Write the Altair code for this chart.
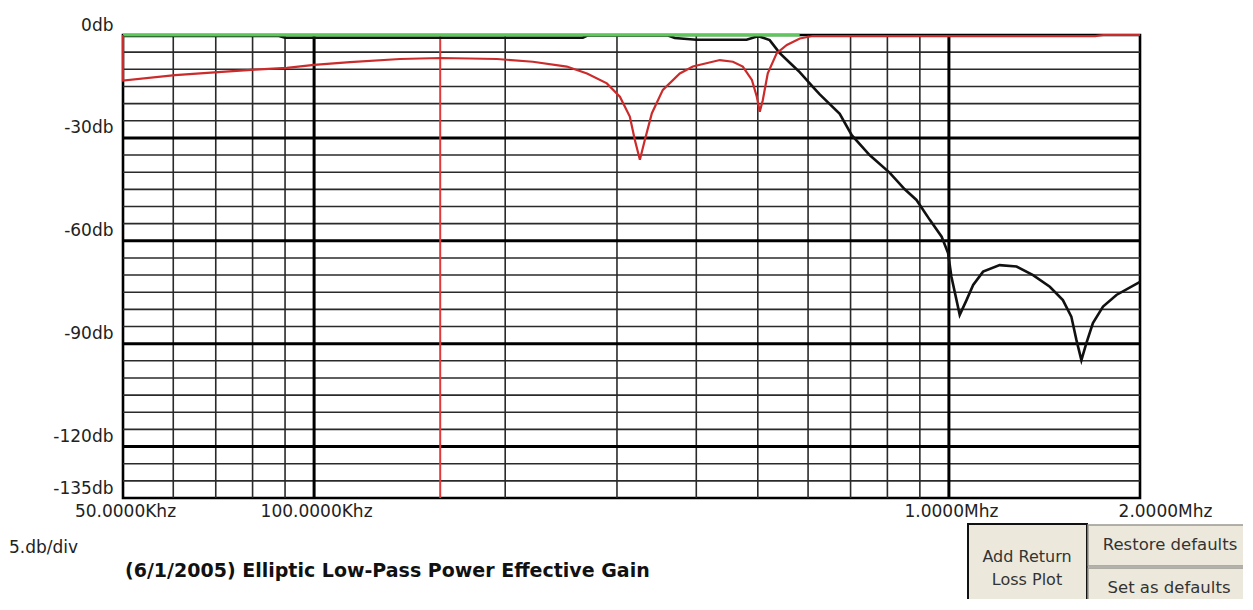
import altair as alt
import pandas as pd

# ---------------- data ----------------
# transmission (power gain) curve, black
black_freq_khz = [50, 88, 90, 265, 270, 360, 370, 400, 480, 500, 504, 522, 541, 561, 582,
                  611, 626, 673, 703, 750, 807, 852, 889, 933, 974, 997, 1009, 1028, 1040,
                  1066, 1092, 1132, 1202, 1278, 1357, 1442, 1512, 1559, 1588, 1617, 1646,
                  1686, 1749, 1836, 2000]
black_db = [-0.3, -0.3, -0.8, -0.8, -0.1, -0.1, -0.9, -1.4, -1.4, -0.4, -0.5, -1.5, -5.2, -8.0, -10.8,
            -15.2, -17.3, -23.0, -29.2, -35.0, -40.2, -45.0, -48.1, -53.9, -58.8, -63.6, -70.4, -77.3, -81.6,
            -77.3, -72.9, -69.0, -67.1, -67.5, -70.0, -73.4, -77.3, -82.1, -88.9, -94.8, -89.9,
            -84.0, -79.2, -75.8, -72.0]

# return loss curve, red
red_freq_khz = [50, 50, 60.4, 70.6, 80.7, 90.6, 100, 113.9, 136.6, 158.4, 194.1, 221.1, 250.1,
                269.1, 289.2, 303.2, 314.3, 320.1, 326.0, 331.9, 340.5, 354.3, 376.8, 395.0,
                435.7, 456.8, 473.5, 489.4, 498.2, 503.6, 509.1, 518.4, 535.6, 555.5, 582.4,
                610.3, 1700, 1750, 2000]
red_db = [0, -13.3, -11.7, -10.8, -10.1, -9.6, -8.7, -7.9, -7.0, -6.7, -7.0, -7.8, -9.2,
          -11.2, -14.1, -18.0, -23.8, -30.6, -36.4, -30.6, -22.8, -16.0, -11.2, -9.2,
          -7.3, -7.8, -9.2, -13.1, -18.0, -22.4, -19.0, -11.2, -5.3, -2.9, -1.0,
          -0.3, -0.3, 0, 0]

# green reference line at 0 dB
green_freq_khz = [50, 582]
green_db = [0, 0]

# cursor marker
marker_freq_khz = [158]

# grid
vgrid_minor = [60, 70, 80, 90, 200, 300, 400, 500, 600, 700, 800, 900]
vgrid_major = [100, 1000]
hgrid_minor = [-5, -10, -15, -20, -25, -35, -40, -45, -50, -55, -65, -70, -75, -80, -85,
               -95, -100, -105, -110, -115, -125, -130]
hgrid_major = [-30, -60, -90, -120]

# axis labels
x_tick_values = [50, 100, 1000, 2000]
x_tick_labels = ["50.0000Khz", "100.0000Khz", "1.0000Mhz", "2.0000Mhz"]
y_tick_values = [0, -30, -60, -90, -120, -135]
y_tick_labels = ["0db", "-30db", "-60db", "-90db", "-120db", "-135db"]

# texts
scale_text = ["5.db/div"]
title_text = ["(6/1/2005) Elliptic Low-Pass Power Effective Gain"]
button1_text = ["Add Return", "Loss Plot"]
button2_text = ["Restore defaults"]
button3_text = ["Set as defaults"]

FONT = "DejaVu Sans"


def label_expr(vals, labels):
    expr = "''"
    for v, l in zip(reversed(vals), reversed(labels)):
        expr = f"(abs(datum.value - ({v})) < 0.001 ? '{l}' : {expr})"
    return expr


x_scale = alt.Scale(type="log", domain=[50, 2000], nice=False, zero=False)
y_scale = alt.Scale(domain=[-135, 0], nice=False, zero=False)

x_axis = alt.Axis(values=x_tick_values, labelExpr=label_expr(x_tick_values, x_tick_labels),
                  title=None, ticks=False, domain=False, grid=False,
                  labelFont=FONT, labelFontSize=17, labelColor="#222222", labelPadding=5,
                  labelFlush=False, labelOverlap=False, labelBound=False,
                  labelOffset={"condition": {"test": "datum.value > 1500", "value": 25}, "value": 2})
y_axis = alt.Axis(values=y_tick_values, labelExpr=label_expr(y_tick_values, y_tick_labels),
                  title=None, ticks=False, tickSize=0, domain=False, grid=False,
                  labelFont=FONT, labelFontSize=17, labelColor="#222222", labelPadding=10,
                  labelOffset=-10, labelBaseline="middle", labelFlush=False, labelOverlap=False)

X = alt.X("f:Q", scale=x_scale, axis=x_axis)
Y = alt.Y("db:Q", scale=y_scale, axis=y_axis)

# ---------------- layers ----------------
vminor = alt.Chart(pd.DataFrame({"f": vgrid_minor})).mark_rule(color="#2a2a2a", strokeWidth=1.6).encode(x=X)
vmajor = alt.Chart(pd.DataFrame({"f": vgrid_major})).mark_rule(color="#000000", strokeWidth=3).encode(x=X)
hminor = alt.Chart(pd.DataFrame({"db": hgrid_minor})).mark_rule(color="#2a2a2a", strokeWidth=1.6).encode(y=Y)
hmajor = alt.Chart(pd.DataFrame({"db": hgrid_major})).mark_rule(color="#000000", strokeWidth=3).encode(y=Y)

marker = alt.Chart(pd.DataFrame({"f": marker_freq_khz})).mark_rule(color="#e03a3a", strokeWidth=2).encode(x=X)

black_df = pd.DataFrame({"f": black_freq_khz, "db": black_db, "i": list(range(len(black_db)))})
red_df = pd.DataFrame({"f": red_freq_khz, "db": red_db, "i": list(range(len(red_db)))})
green_df = pd.DataFrame({"f": green_freq_khz, "db": green_db, "i": list(range(len(green_db)))})

black_line = alt.Chart(black_df).mark_line(color="#111111", strokeWidth=2.6).encode(x=X, y=Y, order="i:Q")
green_line = alt.Chart(green_df).mark_line(color="#5cc85c", strokeWidth=3).encode(x=X, y=Y, order="i:Q")
red_line = alt.Chart(red_df).mark_line(color="#cc2b2b", strokeWidth=2.2).encode(x=X, y=Y, order="i:Q")

# annotations (positions in pixels relative to plot origin)
scale_lbl = alt.Chart(pd.DataFrame({"t": scale_text})).mark_text(
    font=FONT, fontSize=17, color="#222222", align="left", baseline="middle").encode(
    x=alt.value(-114), y=alt.value(513), text="t:N")
title_lbl = alt.Chart(pd.DataFrame({"t": title_text})).mark_text(
    font=FONT, fontSize=19, fontWeight="bold", color="#111111", align="left", baseline="middle").encode(
    x=alt.value(2), y=alt.value(536), text="t:N")

btn_fill = "#ece9dc"
b1 = alt.Chart(pd.DataFrame({"a": [0]})).mark_rect(fill=btn_fill, stroke="#111111", strokeWidth=2).encode(
    x=alt.value(845), x2=alt.value(964), y=alt.value(489), y2=alt.value(600))
b2 = alt.Chart(pd.DataFrame({"a": [0]})).mark_rect(fill=btn_fill, stroke="#9a9890", strokeWidth=1.5).encode(
    x=alt.value(965), x2=alt.value(1130), y=alt.value(490), y2=alt.value(531))
b3 = alt.Chart(pd.DataFrame({"a": [0]})).mark_rect(fill=btn_fill, stroke="#9a9890", strokeWidth=1.5).encode(
    x=alt.value(965), x2=alt.value(1130), y=alt.value(533), y2=alt.value(600))

b1_t1 = alt.Chart(pd.DataFrame({"t": button1_text[:1]})).mark_text(
    font=FONT, fontSize=16, color="#333333", align="center", baseline="middle").encode(
    x=alt.value(904), y=alt.value(522), text="t:N")
b1_t2 = alt.Chart(pd.DataFrame({"t": button1_text[1:]})).mark_text(
    font=FONT, fontSize=16, color="#333333", align="center", baseline="middle").encode(
    x=alt.value(904), y=alt.value(545), text="t:N")
b2_t = alt.Chart(pd.DataFrame({"t": button2_text})).mark_text(
    font=FONT, fontSize=16.5, color="#333333", align="center", baseline="middle").encode(
    x=alt.value(1047), y=alt.value(510), text="t:N")
b3_t = alt.Chart(pd.DataFrame({"t": button3_text})).mark_text(
    font=FONT, fontSize=16.5, color="#333333", align="center", baseline="middle").encode(
    x=alt.value(1046), y=alt.value(553), text="t:N")

chart = alt.layer(
    vminor, hminor, vmajor, hmajor, marker, black_line, green_line, red_line,
    scale_lbl, title_lbl, b1, b2, b3, b1_t1, b1_t2, b2_t, b3_t
).properties(
    width=1017, height=463,
    autosize=alt.AutoSizeParams(type="none"),
    padding={"left": 115, "top": 27, "right": 103, "bottom": 101},
    background="white",
).configure_view(stroke="#000000", strokeWidth=2.6)

chart.save("out.html", embed_options={"renderer": "svg", "actions": False})
